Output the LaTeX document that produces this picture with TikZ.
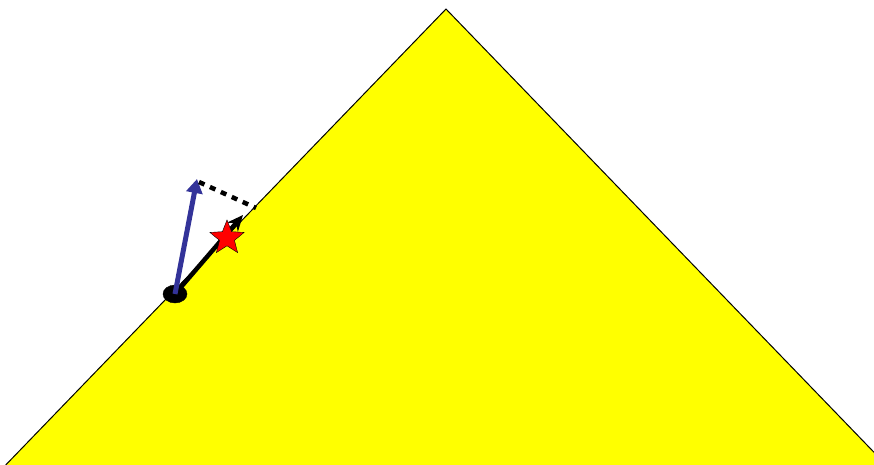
\documentclass[tikz,border=0pt]{standalone}
\usepackage{tikz}
\usetikzlibrary{arrows.meta, positioning, shapes.geometric}
\usepackage{xcolor}
\definecolor{hillyellow}{RGB}{255,255,0}
\definecolor{normalblue}{RGB}{51,51,153}

\begin{document}
\begin{tikzpicture}[x=1pt, y=-1pt, >={Stealth[length=16pt, width=14pt]}, dot/.style={draw, fill=black, ellipse, minimum width=24pt, minimum height=18pt, inner sep=0pt}, mark star/.style={draw, fill=red, star, star points=5, star point ratio=2.3, minimum size=36pt, inner sep=0pt}]
    \useasboundingbox (0,0) rectangle (874,464);
    \coordinate (top) at (446,9);
    \coordinate (L) at (-2,473);
    \coordinate (R) at (894,473);
    \fill[hillyellow] (top) -- (L) -- (R) -- cycle;
    \draw[line width=1pt] (L) -- (top) -- (R);
    \node (P) [dot] at (175,294) {};
    \coordinate (T) at (243,215);
    \coordinate (N) at (197,179);
    \coordinate (E) at (256,208);
    \draw[->, line width=4.5pt] (P.center) -- (T);
    \draw[->, line width=5pt, normalblue, >={Triangle[length=14pt, width=16pt]}] (P.center) -- (N);
    \draw[line width=4.5pt, dash pattern=on 6pt off 6pt] (N) ++(2,3) -- (E);
    \node (S) [mark star] at (227,238) {};
\end{tikzpicture}
\end{document}
